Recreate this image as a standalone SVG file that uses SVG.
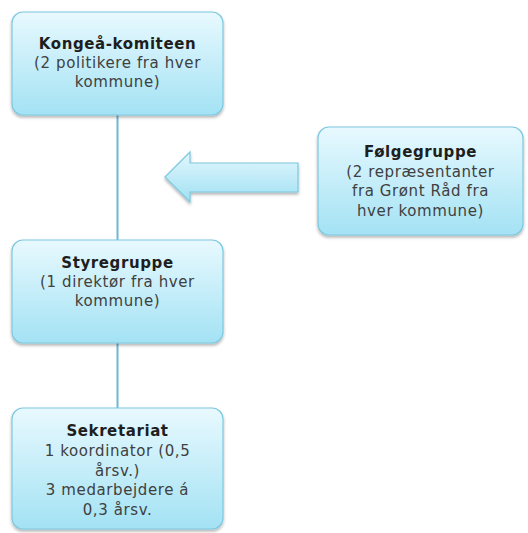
<svg xmlns="http://www.w3.org/2000/svg" width="528" height="533" viewBox="0 0 528 533">
<defs>
<linearGradient id="g" x1="0" y1="0" x2="0" y2="1">
<stop offset="0" stop-color="#e8f9fe"/>
<stop offset="1" stop-color="#a3e2f4"/>
</linearGradient>
<linearGradient id="ga" x1="0" y1="0" x2="0" y2="1">
<stop offset="0" stop-color="#e3f7fd"/>
<stop offset="1" stop-color="#a0e0f3"/>
</linearGradient>
<filter id="sh" x="-10%" y="-10%" width="120%" height="125%">
<feDropShadow dx="0" dy="2" stdDeviation="1.5" flood-color="#000" flood-opacity="0.3"/>
</filter>
</defs>
<style>
.box{fill:url(#g);stroke:#7ec8e0;stroke-width:1.2;filter:url(#sh)}
.t{font-family:"DejaVu Sans",Verdana,sans-serif;font-size:15px;letter-spacing:0.6px;fill:#404040;text-anchor:middle}
.b{font-weight:bold;fill:#1e1e1e}
.c{stroke:#6cb8d4;stroke-width:2;fill:none}
</style>
<g id="connectors">
<line class="c" x1="117.5" y1="115" x2="117.5" y2="240"/>
<line class="c" x1="117.5" y1="343" x2="117.5" y2="408"/>
<path d="M165 177 L190 152 L190 163 L298 163 L298 192 L190 192 L190 202 Z" fill="url(#ga)" stroke="#7ec8e0" stroke-width="1.2" filter="url(#sh)"/>
</g>
<g id="kongea">
<rect class="box" x="12" y="12" width="211" height="103" rx="11"/>
<text class="t b" x="117.5" y="49">Kongeå-komiteen</text>
<text class="t" x="117.5" y="68">(2 politikere fra hver</text>
<text class="t" x="117.5" y="87">kommune)</text>
</g>
<g id="folgegruppe">
<rect class="box" x="318" y="127" width="205" height="108" rx="11"/>
<text class="t b" x="420.5" y="157">Følgegruppe</text>
<text class="t" x="420.5" y="176.5">(2 repræsentanter</text>
<text class="t" x="420.5" y="196">fra Grønt Råd fra</text>
<text class="t" x="420.5" y="215.5">hver kommune)</text>
</g>
<g id="styregruppe">
<rect class="box" x="12" y="240" width="211" height="103" rx="11"/>
<text class="t b" x="117.5" y="268">Styregruppe</text>
<text class="t" x="117.5" y="287">(1 direktør fra hver</text>
<text class="t" x="117.5" y="306">kommune)</text>
</g>
<g id="sekretariat">
<rect class="box" x="12" y="408" width="211" height="121" rx="11"/>
<text class="t b" x="117.5" y="436">Sekretariat</text>
<text class="t" x="117.5" y="456">1 koordinator (0,5</text>
<text class="t" x="117.5" y="475.5">årsv.)</text>
<text class="t" x="117.5" y="495">3 medarbejdere á</text>
<text class="t" x="117.5" y="515">0,3 årsv.</text>
</g>
</svg>
